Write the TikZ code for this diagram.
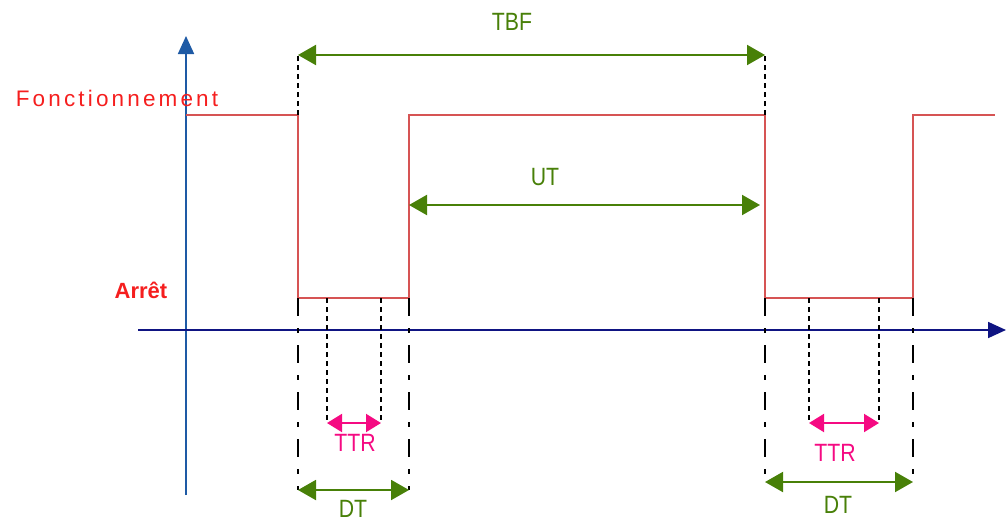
\documentclass[tikz,border=0pt]{standalone}
\usepackage{fontspec}
\setmainfont{Liberation Sans}
\newfontfamily\spacedfont[LetterSpace=14]{Liberation Sans}
\usetikzlibrary{arrows.meta}
\definecolor{sigred}{RGB}{214,84,84}
\definecolor{txtred}{RGB}{245,30,30}
\definecolor{dimgreen}{RGB}{72,128,8}
\definecolor{ttrpink}{RGB}{245,10,130}
\definecolor{axblue}{RGB}{30,90,165}
\definecolor{axnavy}{RGB}{15,20,130}
\begin{document}
\begin{tikzpicture}[x=1pt,y=-1pt,
  signal/.style={draw=sigred,line width=1.8pt},
  dim/.style={draw=dimgreen,line width=2pt,{Triangle[length=18pt,width=20pt]}-{Triangle[length=18pt,width=20pt]}},
  ttrdim/.style={draw=ttrpink,line width=2pt,{Triangle[length=15pt,width=18pt]}-{Triangle[length=15pt,width=18pt]}},
  guide/.style={draw=black,line width=1.6pt,dash pattern=on 5pt off 4pt},
  guidelong/.style={draw=black,line width=1.6pt,dash pattern=on 18pt off 12pt on 5pt off 12pt},
  dimlabel/.style={text=dimgreen,font=\fontsize{25}{25}\selectfont,xscale=0.85},
  ttrlabel/.style={text=ttrpink,font=\fontsize{25}{25}\selectfont,xscale=0.85},
  statelabel/.style={text=txtred,font=\bfseries\fontsize{22}{22}\selectfont}]
\useasboundingbox (0,0) rectangle (1008,522);
% axes
\coordinate (vb) at (186,495);
\coordinate (vt) at (186,36);
\coordinate (hl) at (138,330);
\coordinate (hr) at (1006,330);
\draw[axblue,line width=1.8pt,-{Triangle[length=18pt,width=16pt]}] (vb) -- (vt);
\draw[axnavy,line width=1.8pt,-{Triangle[length=18pt,width=16pt]}] (hl) -- (hr);
% signal points
\coordinate (s0) at (186,115);
\coordinate (s1) at (298,115);
\coordinate (s2) at (298,298);
\coordinate (s3) at (409,298);
\coordinate (s4) at (409,115);
\coordinate (s5) at (765,115);
\coordinate (s6) at (765,298);
\coordinate (s7) at (913,298);
\coordinate (s8) at (913,115);
\coordinate (s9) at (995,115);
\draw[signal] (s0) -- (s1) -- (s2) -- (s3) -- (s4) -- (s5) -- (s6) -- (s7) -- (s8) -- (s9);
% labels of states
\node[text=txtred,font=\spacedfont\fontsize{22.5}{22.5}\selectfont] (fonc) at (117,98) {Fonctionnement};
\node[statelabel] (arret) at (141,290) {Arrêt};
% TBF
\coordinate (tbfl) at (298,55);
\coordinate (tbfr) at (765,55);
\draw[guide] (s1) -- (tbfl);
\draw[guide] (s5) -- (tbfr);
\draw[dim] (tbfl) -- (tbfr);
\node[dimlabel] (tbf) at (512,22) {TBF};
% UT
\coordinate (utl) at (409,205);
\coordinate (utr) at (760,205);
\draw[dim] (utl) -- (utr);
\node[dimlabel] (ut) at (545,177) {UT};
% left downtime
\coordinate (a1) at (327,298);
\coordinate (a2) at (381,298);
\coordinate (ttr1l) at (327,423);
\coordinate (ttr1r) at (381,423);
\coordinate (dt1l) at (298,490);
\coordinate (dt1r) at (409,490);
\draw[guidelong] (s2) -- (dt1l);
\draw[guidelong] (s3) -- (dt1r);
\draw[guide] (a1) -- (ttr1l);
\draw[guide] (a2) -- (ttr1r);
\draw[ttrdim] (ttr1l) -- (ttr1r);
\draw[dim] (dt1l) -- (dt1r);
\node[ttrlabel] (ttr1) at (355,443) {TTR};
\node[dimlabel] (dt1) at (353,509) {DT};
% right downtime
\coordinate (b1) at (809,298);
\coordinate (b2) at (879,298);
\coordinate (ttr2l) at (809,423);
\coordinate (ttr2r) at (879,423);
\coordinate (dt2l) at (765,482);
\coordinate (dt2r) at (913,482);
\draw[guidelong] (s6) -- (dt2l);
\draw[guidelong] (s7) -- (dt2r);
\draw[guide] (b1) -- (ttr2l);
\draw[guide] (b2) -- (ttr2r);
\draw[ttrdim] (ttr2l) -- (ttr2r);
\draw[dim] (dt2l) -- (dt2r);
\node[ttrlabel] (ttr2) at (835,453) {TTR};
\node[dimlabel] (dt2) at (838,505) {DT};
\end{tikzpicture}
\end{document}
